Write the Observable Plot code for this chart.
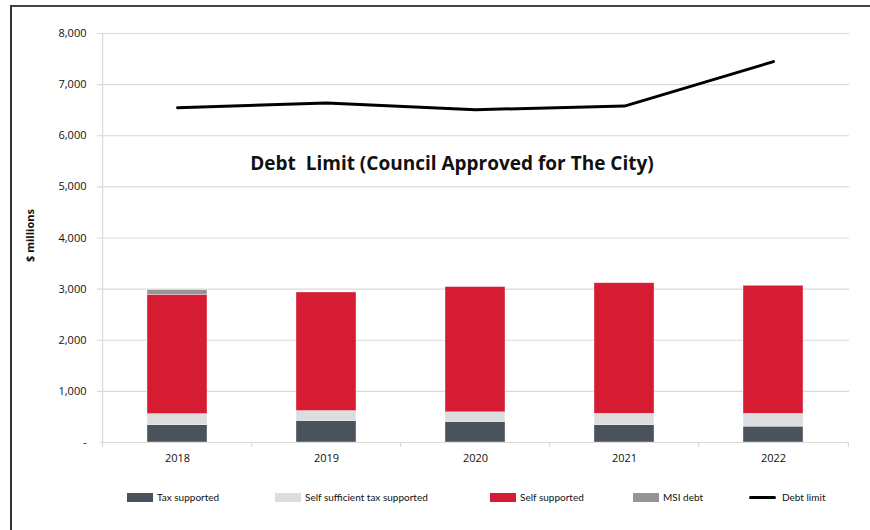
<!DOCTYPE html>
<html><head><meta charset="utf-8">
<script src="https://cdn.jsdelivr.net/npm/d3@7"></script>
<script src="https://cdn.jsdelivr.net/npm/@observablehq/plot@0.6"></script>
<style>
body{margin:0;background:#fff;}
#wrap{position:relative;width:870px;height:530px;overflow:hidden;font-family:"Open Sans",sans-serif;}
#frame{position:absolute;left:10px;top:5px;width:900px;height:600px;border-left:2px solid #333;border-top:2px solid #444;box-sizing:border-box;}
#chart{position:absolute;left:0;top:0;}
#legend{position:absolute;left:0;top:489px;width:870px;height:16px;font-family:Lato,sans-serif;font-size:10px;color:#111;}
.li{position:absolute;top:0;display:flex;align-items:center;height:16px;}
.sw{width:26px;height:9px;margin-right:4px;}
.ln{width:27px;height:3px;background:#000;border-radius:2px;margin-right:6px;}
</style></head>
<body>
<div id="wrap"><div id="frame"></div><div id="chart"></div><div id="legend"></div></div>
<script>
const years = ["2018","2019","2020","2021","2022"];
const taxSupported = [340, 420, 400, 340, 310];
const selfSufficientTax = [215, 195, 190, 220, 250];
const selfSupported = [2335, 2320, 2450, 2555, 2505];
const msiDebt = [90, 0, 0, 0, 0];
const debtLimit = [6550, 6640, 6510, 6580, 7450];
const seriesNames = ["Tax supported","Self sufficient tax supported","Self supported","MSI debt"];
const seriesColors = ["#4a535c","#dcdddf","#d51c33","#939598"];
const yTicks = [0,1000,2000,3000,4000,5000,6000,7000,8000];

const seriesValues = [taxSupported, selfSufficientTax, selfSupported, msiDebt];
const rows = [];
years.forEach((y,i)=>seriesNames.forEach((s,j)=>rows.push({year:y, series:s, value:seriesValues[j][i]})));
const lineRows = years.map((y,i)=>({year:y, value:debtLimit[i]}));

const W = 870, ml = 100, mr = 21;
const step = (W-ml-mr)/years.length;

const plot = Plot.plot({
  width: W, height: 475,
  marginTop: 33, marginBottom: 33, marginLeft: ml, marginRight: mr,
  style:{fontFamily:"'Open Sans',sans-serif", fontSize:"11px", color:"#111", background:"transparent"},
  x:{domain:years, paddingInner:0.6, paddingOuter:0.3, label:null, tickSize:0, tickPadding:12},
  y:{domain:[0,8000], ticks:yTicks, label:null, tickSize:0, tickPadding:14,
     tickFormat:d=> d===0 ? "-" : d3.format(",")(d)},
  color:{domain:seriesNames, range:seriesColors},
  marks:[
    Plot.ruleY(yTicks.slice(1), {stroke:"#d9d9d9", strokeWidth:1.2, insetLeft:-3}),
    Plot.ruleY([0], {stroke:"#d9d9d9", strokeWidth:1.2}),
    Plot.ruleX([years[0]], {stroke:"#d9d9d9", dx:-step/2, strokeWidth:1.2}),
    Plot.ruleX(years, {x:d=>d, y1:0, y2:0, insetBottom:-5, dx:-step/2, stroke:"#d9d9d9", strokeWidth:1.2}),
    Plot.ruleX([years[years.length-1]], {x:d=>d, y1:0, y2:0, insetBottom:-5, dx:step/2, stroke:"#d9d9d9", strokeWidth:1.2}),
    Plot.barY(rows, Plot.stackY({x:"year", y:"value", fill:"series", order:seriesNames, stroke:"#fff", strokeOpacity:0.6, strokeWidth:0.6})),
    Plot.line(lineRows, {x:"year", y:"value", stroke:"#000", strokeWidth:3, strokeLinecap:"round"}),
    Plot.text(["Debt  Limit (Council Approved for The City)"], {frameAnchor:"top", dy:123, dx:-23, fontSize:19, fontWeight:"bold", fill:"#111", fontFamily:"'Open Sans', sans-serif"}),
    Plot.text(["$ millions"], {frameAnchor:"left", dx:-70, dy:24, rotate:-90, fontSize:11, fontWeight:"bold", fill:"#111"})
  ]
});
document.getElementById("chart").appendChild(plot);

const legendItems = [
  {name:seriesNames[0], color:seriesColors[0], x:127},
  {name:seriesNames[1], color:seriesColors[1], x:275},
  {name:seriesNames[2], color:seriesColors[2], x:490},
  {name:seriesNames[3], color:seriesColors[3], x:633},
  {name:"Debt limit", color:null, x:749}
];
const lg = document.getElementById("legend");
legendItems.forEach(it=>{
  const d = document.createElement("div"); d.className="li"; d.style.left=it.x+"px";
  const s = document.createElement("div"); s.className = it.color ? "sw" : "ln";
  if (it.color) s.style.background = it.color;
  d.appendChild(s);
  const t = document.createElement("span"); t.textContent = it.name; d.appendChild(t);
  lg.appendChild(d);
});
</script>
</body></html>
